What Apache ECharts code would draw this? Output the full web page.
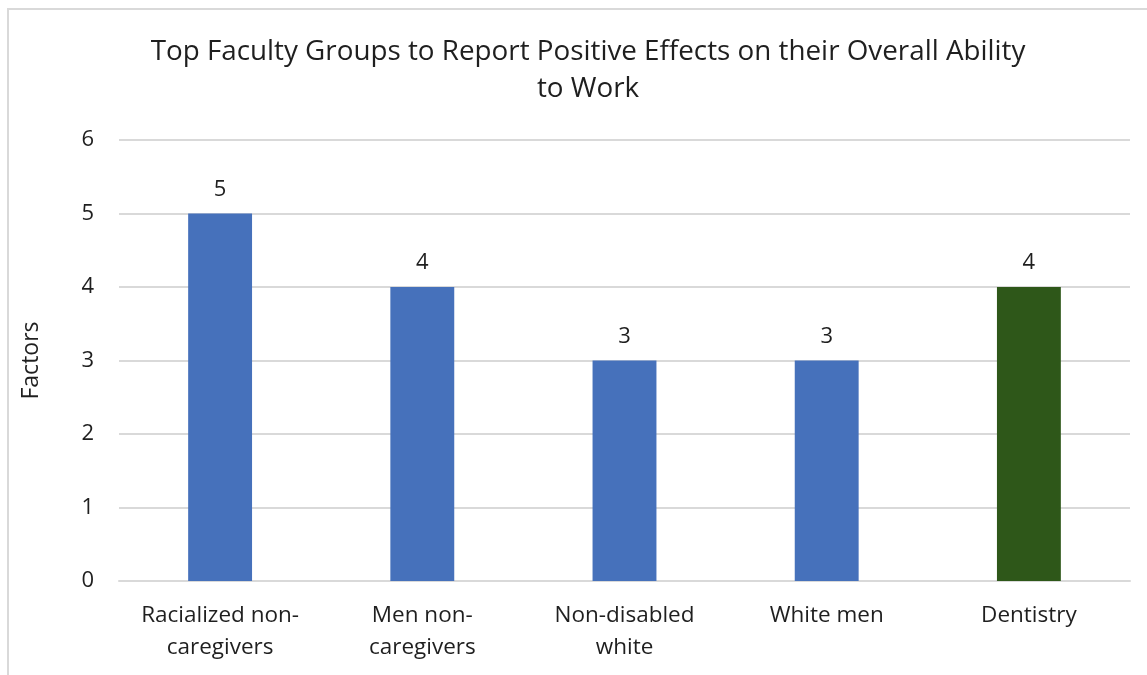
<!DOCTYPE html>
<html>
<head>
<meta charset="utf-8">
<script src="https://cdn.jsdelivr.net/npm/echarts@6/dist/echarts.min.js"></script>
<style>
	html, body { margin: 0; padding: 0; background: #fff; }
	#frame {
		position: absolute; left: 7px; top: 8px; width: 1150px; height: 680px;
		border: 2px solid #d9d9d9; box-sizing: border-box;
	}
	#main { position: absolute; left: 0; top: 0; width: 1147px; height: 675px; }
</style>
</head>
<body>
<div id="frame"></div>
<div id="main"></div>
<script>
	// 类别
	var groups = ['Racialized non-\ncaregivers', 'Men non-\ncaregivers', 'Non-disabled\nwhite', 'White men', 'Dentistry'];
	// 数值
	var factors = [5, 4, 3, 3, 4];
	var barColors = ['#4671bb', '#4671bb', '#4671bb', '#4671bb', '#2e5719'];

	var chart = echarts.init(document.getElementById('main'));
	var font = '"Open Sans", "Noto Sans", sans-serif';
	var option = {
		backgroundColor: 'transparent',
		title: {
			text: 'Top Faculty Groups to Report Positive Effects on their Overall Ability\nto Work',
			left: 583, top: 29, textAlign: 'center',
			textStyle: { fontFamily: font, fontSize: 27.8, fontWeight: 'normal', color: '#1f1f1f', lineHeight: 37 }
		},
		grid: { left: 119, right: 17, top: 140, bottom: 94 },
		xAxis: {
			type: 'category',
			data: groups,
			axisTick: { show: false },
			axisLine: { lineStyle: { color: '#d9d9d9', width: 2 } },
			axisLabel: { fontFamily: font, fontSize: 22.5, color: '#1f1f1f', lineHeight: 32, margin: 19, interval: 0 }
		},
		yAxis: {
			type: 'value',
			min: 0, max: 6, interval: 1,
			name: 'Factors',
			nameLocation: 'middle',
			nameGap: 76,
			nameTextStyle: { fontFamily: font, fontSize: 23, color: '#1f1f1f' },
			axisLabel: { fontFamily: font, fontSize: 22, color: '#1f1f1f', margin: 25 },
			splitLine: { lineStyle: { color: '#d9d9d9', width: 2 } }
		},
		series: [{
			type: 'bar',
			data: factors.map(function (v, i) { return { value: v, itemStyle: { color: barColors[i] } }; }),
			barWidth: '31.6%',
			label: { show: true, position: 'top', distance: 13, fontFamily: font, fontSize: 22, color: '#1f1f1f' }
		}]
	};
	chart.setOption(option);
</script>
</body>
</html>
